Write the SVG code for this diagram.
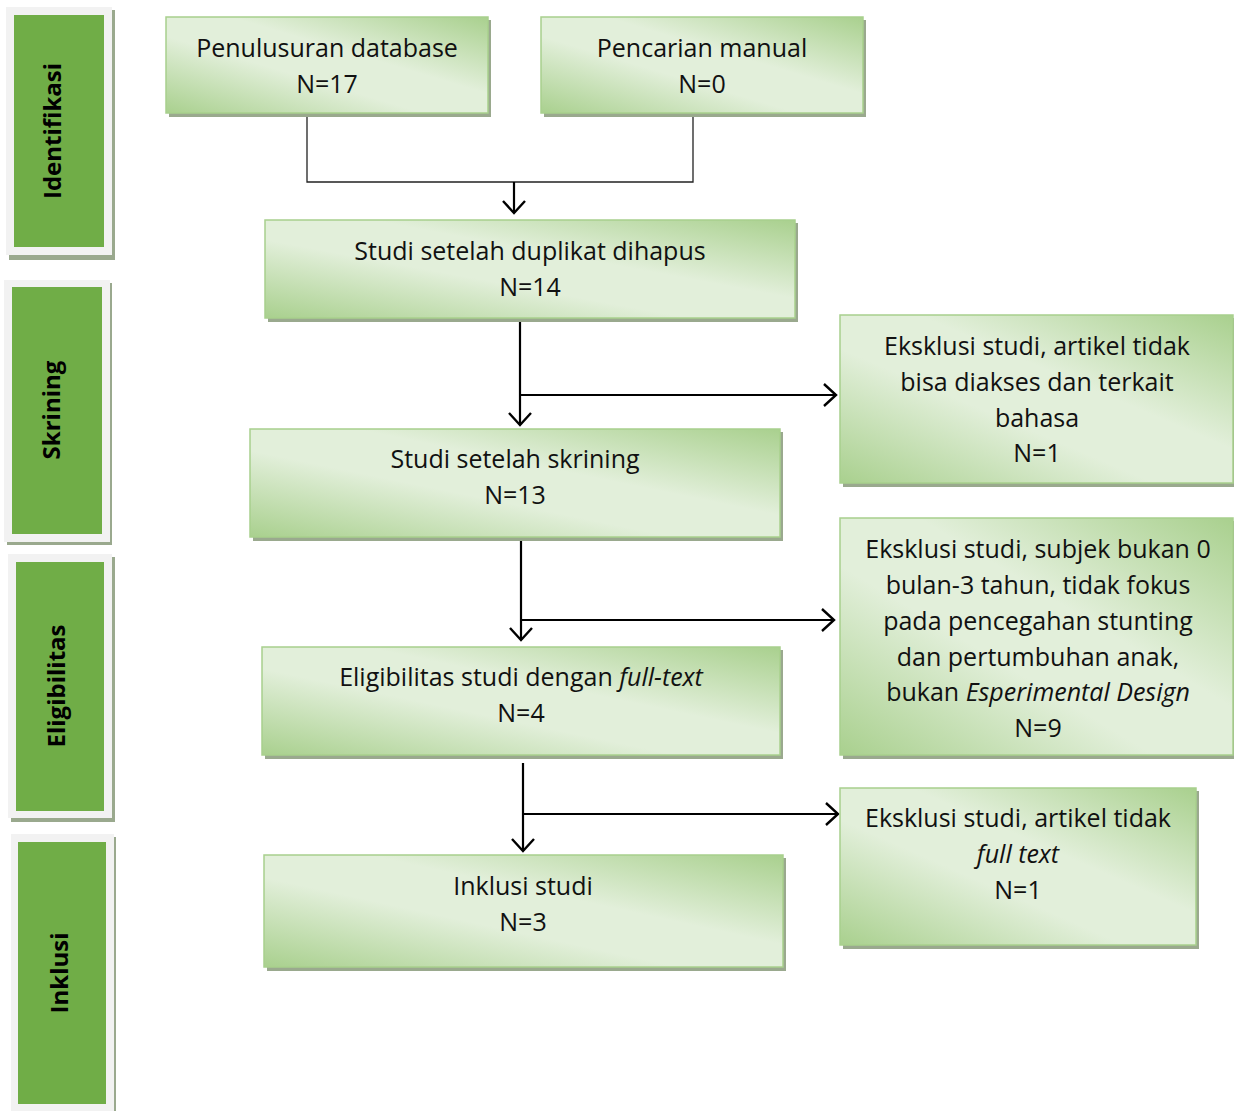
<svg xmlns="http://www.w3.org/2000/svg" width="1234" height="1111" viewBox="0 0 1234 1111">
<style>
.box{fill:url(#g);stroke:#a8d08d;stroke-width:1.5}
.sh{fill:#9aa98e}
.t{font-family:"Open Sans","Noto Sans",sans-serif;font-size:25px;fill:#111;text-anchor:middle}
.side-o{fill:#f2f2f2}
.side-i{fill:#70ad47}
.st{font-family:"Open Sans","Noto Sans",sans-serif;font-size:24px;font-weight:bold;fill:#000;text-anchor:middle}
.thin{stroke:#222;stroke-width:1.3;fill:none}
.arr{stroke:#000;stroke-width:2.2;fill:none;marker-end:url(#ah)}
</style>
<defs>
<linearGradient id="g" x1="0" y1="1" x2="1" y2="0">
<stop offset="0" stop-color="#a9d08e"/>
<stop offset="0.4" stop-color="#e2efda"/>
<stop offset="0.6" stop-color="#e2efda"/>
<stop offset="1" stop-color="#a9d08e"/>
</linearGradient>
<marker id="ah" markerUnits="userSpaceOnUse" markerWidth="26" markerHeight="26" refX="13" refY="12" orient="auto" viewBox="0 0 26 24">
<path d="M1,1 L13,12 L1,23" fill="none" stroke="#000" stroke-width="2.4"/>
</marker>
</defs>

<g id="side-identifikasi">
<rect x="9" y="10" width="106" height="250" class="sh"/>
<rect x="6" y="7" width="106" height="248" class="side-o"/>
<rect x="14" y="15" width="90" height="232" class="side-i"/>
<text class="st" transform="translate(61,131) rotate(-90)">Identifikasi</text>
</g>
<g id="side-skrining">
<rect x="7" y="283" width="105" height="262" class="sh"/>
<rect x="4" y="280" width="106" height="262" class="side-o"/>
<rect x="12" y="287" width="90" height="247" class="side-i"/>
<text class="st" transform="translate(60,410) rotate(-90)">Skrining</text>
</g>
<g id="side-eligibilitas">
<rect x="11" y="557" width="104" height="265" class="sh"/>
<rect x="8" y="554" width="104" height="264" class="side-o"/>
<rect x="16" y="562" width="88" height="249" class="side-i"/>
<text class="st" transform="translate(65,686) rotate(-90)">Eligibilitas</text>
</g>
<g id="side-inklusi">
<rect x="14" y="837" width="102" height="274" class="sh"/>
<rect x="11" y="834" width="103" height="277" class="side-o"/>
<rect x="18" y="842" width="88" height="262" class="side-i"/>
<text class="st" transform="translate(68,973) rotate(-90)">Inklusi</text>
</g>

<g id="connectors">
<path class="thin" d="M307,113 V182 H693 V113"/>
<path class="arr" d="M514,182 V213"/>
<path class="arr" d="M520,318 V425"/>
<path class="arr" d="M520,395 H836"/>
<path class="arr" d="M521,537 V640"/>
<path class="arr" d="M521,620 H834"/>
<path class="arr" d="M523,763 V851"/>
<path class="arr" d="M523,814 H838"/>
</g>

<g id="n-database">
<rect x="169" y="20" width="322" height="97" class="sh"/>
<rect x="166" y="17" width="322" height="96" class="box"/>
<text class="t" x="327" y="57">Penulusuran database</text>
<text class="t" x="327" y="93">N=17</text>
</g>
<g id="n-manual">
<rect x="544" y="20" width="322" height="97" class="sh"/>
<rect x="541" y="17" width="322" height="96" class="box"/>
<text class="t" x="702" y="57">Pencarian manual</text>
<text class="t" x="702" y="93">N=0</text>
</g>
<g id="n-duplikat">
<rect x="268" y="223" width="530" height="99" class="sh"/>
<rect x="265" y="220" width="530" height="98" class="box"/>
<text class="t" x="530" y="260">Studi setelah duplikat dihapus</text>
<text class="t" x="530" y="296">N=14</text>
</g>
<g id="n-eks1">
<rect x="843" y="318" width="393" height="169" class="sh"/>
<rect x="840" y="315" width="393" height="168" class="box"/>
<text class="t" x="1037" y="355">Eksklusi studi, artikel tidak</text>
<text class="t" x="1037" y="391">bisa diakses dan terkait</text>
<text class="t" x="1037" y="427">bahasa</text>
<text class="t" x="1037" y="462">N=1</text>
</g>
<g id="n-skrining">
<rect x="253" y="432" width="530" height="109" class="sh"/>
<rect x="250" y="429" width="530" height="108" class="box"/>
<text class="t" x="515" y="468">Studi setelah skrining</text>
<text class="t" x="515" y="504">N=13</text>
</g>
<g id="n-eks2">
<rect x="843" y="521" width="393" height="238" class="sh"/>
<rect x="840" y="518" width="393" height="237" class="box"/>
<text class="t" x="1038" y="558">Eksklusi studi, subjek bukan 0</text>
<text class="t" x="1038" y="594">bulan-3 tahun, tidak fokus</text>
<text class="t" x="1038" y="630">pada pencegahan stunting</text>
<text class="t" x="1038" y="666">dan pertumbuhan anak,</text>
<text class="t" x="1038" y="701">bukan <tspan font-style="italic">Esperimental Design</tspan></text>
<text class="t" x="1038" y="737">N=9</text>
</g>
<g id="n-eligibilitas">
<rect x="265" y="650" width="518" height="109" class="sh"/>
<rect x="262" y="647" width="518" height="108" class="box"/>
<text class="t" x="521" y="686">Eligibilitas studi dengan <tspan font-style="italic">full-text</tspan></text>
<text class="t" x="521" y="722">N=4</text>
</g>
<g id="n-eks3">
<rect x="843" y="791" width="356" height="158" class="sh"/>
<rect x="840" y="788" width="356" height="157" class="box"/>
<text class="t" x="1018" y="827">Eksklusi studi, artikel tidak</text>
<text class="t" x="1018" y="863" font-style="italic">full text</text>
<text class="t" x="1018" y="899">N=1</text>
</g>
<g id="n-inklusi">
<rect x="267" y="858" width="519" height="113" class="sh"/>
<rect x="264" y="855" width="519" height="112" class="box"/>
<text class="t" x="523" y="895">Inklusi studi</text>
<text class="t" x="523" y="931">N=3</text>
</g>
</svg>
